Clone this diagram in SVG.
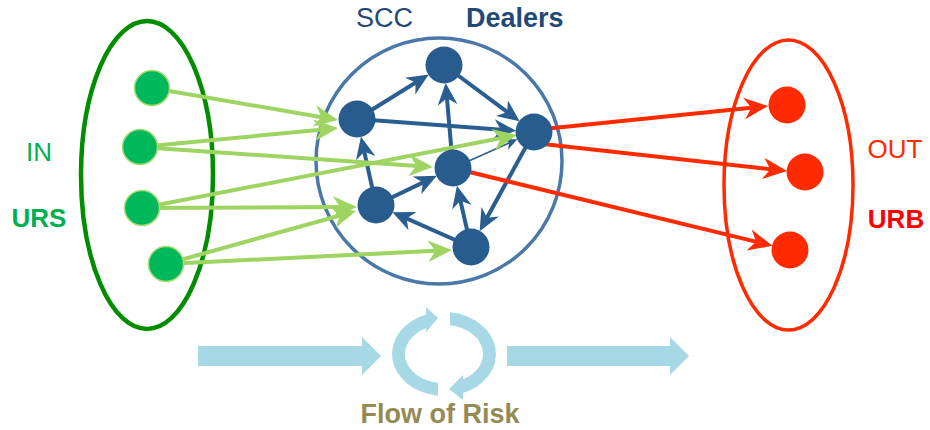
<svg xmlns="http://www.w3.org/2000/svg" width="930" height="430" viewBox="0 0 930 430">
<style>
text{font-family:"Liberation Sans",Arial,sans-serif}
.bn{fill:#285C8F}
.gn{fill:#00B85C;stroke:#A8DA74;stroke-width:1.5}
.rn{fill:#FF2A00}
.be{stroke:#2A5D90;stroke-width:4;fill:none;marker-end:url(#ab)}
.bt{stroke:#2A5D90;stroke-width:1.5;fill:none;marker-end:url(#abs)}
.ge{stroke:#9ED461;stroke-width:4;fill:none;marker-end:url(#ag)}
.re{stroke:#FF2A00;stroke-width:4;fill:none;marker-end:url(#ar)}
.flow{fill:#A6D8E6}
</style>
<defs>
<marker id="ab" viewBox="0 0 20 20" markerUnits="userSpaceOnUse" markerWidth="22" markerHeight="22" refX="10" refY="10" orient="auto"><path d="M0,1 L20,10 L0,19 L6,10 Z" fill="#2A5D90"/></marker>
<marker id="abs" viewBox="0 0 20 20" markerUnits="userSpaceOnUse" markerWidth="13" markerHeight="13" refX="10" refY="10" orient="auto"><path d="M0,1 L20,10 L0,19 L6,10 Z" fill="#2A5D90"/></marker>
<marker id="ag" viewBox="0 0 20 20" markerUnits="userSpaceOnUse" markerWidth="24" markerHeight="24" refX="10" refY="10" orient="auto"><path d="M0,1 L20,10 L0,19 L6,10 Z" fill="#9ED461"/></marker>
<marker id="ar" viewBox="0 0 20 20" markerUnits="userSpaceOnUse" markerWidth="24" markerHeight="24" refX="10" refY="10" orient="auto"><path d="M0,1 L20,10 L0,19 L6,10 Z" fill="#FF2A00"/></marker>
</defs>

<g id="urs-group">
<ellipse cx="147" cy="175" rx="66" ry="154" fill="none" stroke="#008E00" stroke-width="4.5"/>
<text x="39" y="161" font-size="26" fill="#00B050" text-anchor="middle">IN</text>
<text x="39" y="227" font-size="26" font-weight="bold" fill="#00B050" text-anchor="middle">URS</text>
</g>
<g id="scc-group">
<circle cx="439" cy="161" r="123" fill="none" stroke="#4A78A8" stroke-width="3.5"/>
<text x="356" y="27" font-size="27" fill="#1F4A78">SCC</text>
<text x="466" y="27" font-size="27" font-weight="bold" fill="#1F4A78">Dealers</text>
</g>
<g id="urb-group">
<ellipse cx="788.5" cy="185" rx="64.5" ry="145" fill="none" stroke="#FF2A00" stroke-width="3.5"/>
<text x="895" y="158" font-size="26" fill="#FF2A00" text-anchor="middle">OUT</text>
<text x="896" y="228" font-size="26" font-weight="bold" fill="#FF0000" text-anchor="middle">URB</text>
</g>

<g id="connectors">
<line class="be" x1="357" y1="119" x2="419.4" y2="80.3"/>
<line class="be" x1="444" y1="65" x2="510.8" y2="114.7"/>
<line class="be" x1="357" y1="119" x2="505.1" y2="129.9"/>
<line class="be" x1="453" y1="168" x2="446.6" y2="93.9"/>
<line class="bt" x1="453" y1="168" x2="511.5" y2="141.9"/>
<line class="be" x1="376" y1="205" x2="363.3" y2="147.4"/>
<line class="be" x1="376" y1="205" x2="426.9" y2="180.6"/>
<line class="be" x1="471" y1="247" x2="459.4" y2="196.4"/>
<line class="be" x1="471" y1="247" x2="402.5" y2="216.7"/>
<line class="be" x1="534" y1="132" x2="484.9" y2="221.5"/>

<line class="ge" x1="152" y1="88" x2="326.2" y2="118"/>
<line class="ge" x1="140" y1="147" x2="326.1" y2="129.2"/>
<line class="ge" x1="140" y1="147" x2="421" y2="166.2"/>
<line class="ge" x1="142" y1="208" x2="505.2" y2="137.3"/>
<line class="ge" x1="142" y1="208" x2="345" y2="207.1"/>
<line class="ge" x1="166" y1="264" x2="344.4" y2="214.2"/>
<line class="ge" x1="166" y1="264" x2="440" y2="250.6"/>

<line class="re" x1="534" y1="130" x2="756.1" y2="107.2"/>
<line class="re" x1="534" y1="143" x2="775.1" y2="169.7"/>
<line class="re" x1="453" y1="168" x2="760.8" y2="242.9"/>
</g>

<g id="in1"><circle class="gn" cx="152" cy="88" r="17.5"/></g>
<g id="in2"><circle class="gn" cx="140" cy="147" r="17.5"/></g>
<g id="in3"><circle class="gn" cx="142" cy="208" r="17.5"/></g>
<g id="in4"><circle class="gn" cx="166" cy="264" r="17.5"/></g>

<g id="dA"><circle class="bn" cx="444" cy="65" r="18.5"/></g>
<g id="dB"><circle class="bn" cx="357" cy="119" r="18.5"/></g>
<g id="dC"><circle class="bn" cx="534" cy="132" r="18.5"/></g>
<g id="dD"><circle class="bn" cx="453" cy="168" r="18.5"/></g>
<g id="dE"><circle class="bn" cx="376" cy="205" r="18.5"/></g>
<g id="dF"><circle class="bn" cx="471" cy="247" r="18.5"/></g>

<g id="out1"><circle class="rn" cx="787" cy="105" r="18.5"/></g>
<g id="out2"><circle class="rn" cx="805" cy="172" r="18.5"/></g>
<g id="out3"><circle class="rn" cx="790" cy="250" r="18.5"/></g>

<g id="flow">
<path class="flow" d="M198,346 L362,346 L362,337 L381,356 L362,375 L362,366 L198,366 Z"/>
<path class="flow" d="M507,346 L670,346 L670,337 L689,356 L670,375 L670,366 L507,366 Z"/>
<path class="flow" d="M438,395.7 A52,42 0 0 1 426,314.6 L426,307 L438,318 L426,332 L426,328.3 A39,29 0 0 0 438,382.7 Z"/>
<path class="flow" d="M450,312.3 A52,42 0 0 1 463,393.1 L463,400 L449,389 L463,375 L463,379.3 A39,29 0 0 0 450,325.3 Z"/>
<text x="440" y="423" font-size="27" font-weight="bold" fill="#948A54" text-anchor="middle">Flow of Risk</text>
</g>
</svg>
